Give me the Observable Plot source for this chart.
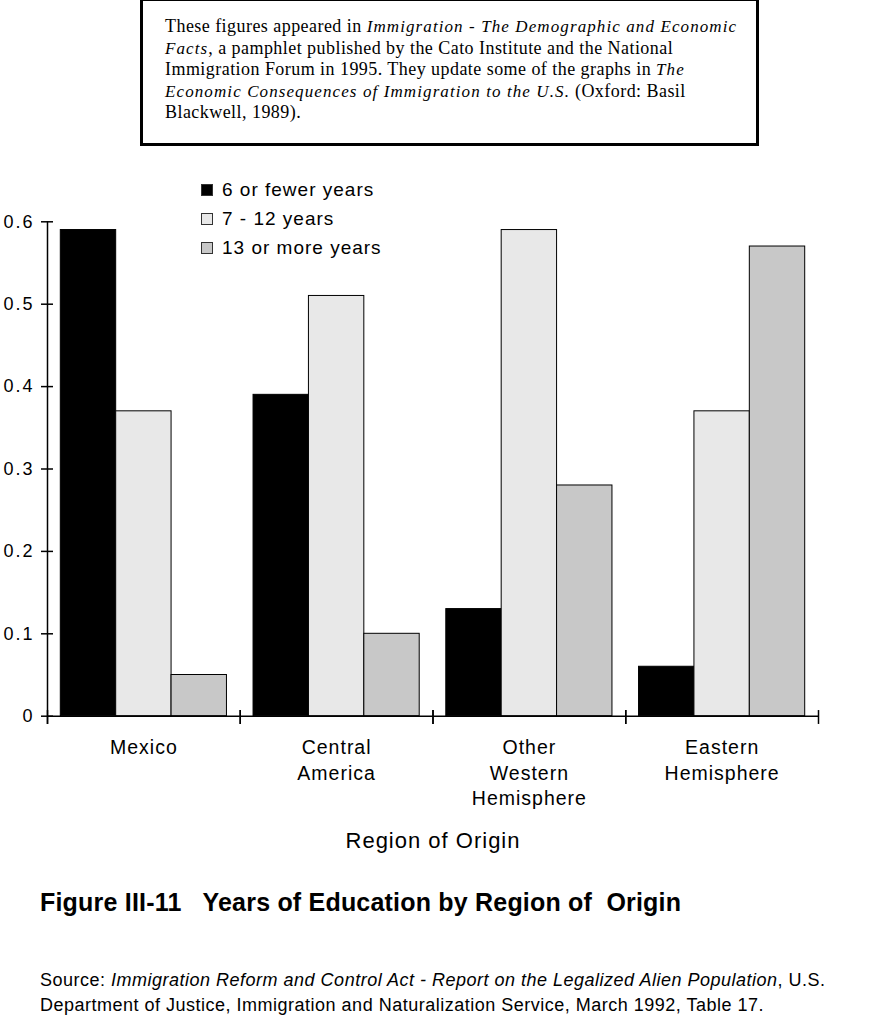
<!DOCTYPE html>
<html>
<head>
<meta charset="utf-8">
<script src="https://cdn.jsdelivr.net/npm/d3@7"></script>
<script src="https://cdn.jsdelivr.net/npm/@observablehq/plot@0.6"></script>
<style>
  body { margin: 0; background: #fff; width: 894px; height: 1025px; position: relative; overflow: hidden; font-family: "Liberation Sans", Arial, sans-serif; color: #000; }
  #note { position: absolute; left: 140px; top: -2px; width: 613px; height: 142px; border: 3px solid #000; }
  #note .txt { position: absolute; left: 22px; top: 15px; font-family: "Liberation Serif", "Times New Roman", serif; font-size: 18px; letter-spacing: 0.45px; line-height: 21.5px; white-space: nowrap; }
  #note .txt i { font-size: 17px; letter-spacing: 1.1px; }
  #chart { position: absolute; left: 0; top: 150px; }
  #chart svg { letter-spacing: 1px; }
  #chart g[aria-label="y-axis tick label"] { letter-spacing: 2px; }
  #legend { position: absolute; left: 201px; top: 175px; font-size: 19px; letter-spacing: 1px; }
  #legend .row { display: flex; align-items: center; height: 29px; }
  #legend .sw { width: 10px; height: 10px; border: 1px solid #333; margin-right: 9px; }
  #title { position: absolute; left: 40px; top: 887px; font-size: 25px; font-weight: bold; letter-spacing: 0.2px; white-space: pre; line-height: 30px; }
  #source { position: absolute; left: 40px; top: 968px; font-size: 18px; letter-spacing: 0.5px; line-height: 25px; white-space: nowrap; }
</style>
</head>
<body>
<div id="note"><div class="txt">These figures appeared in <i>Immigration - The Demographic and Economic</i><br><i>Facts</i>, a pamphlet published by the Cato Institute and the National<br>Immigration Forum in 1995. They update some of the graphs in <i>The</i><br><i>Economic Consequences of Immigration to the U.S.</i> (Oxford: Basil<br>Blackwell, 1989).</div></div>
<div id="chart"></div>
<div id="legend"></div>
<div id="title">Figure III-11   Years of Education by Region of  Origin</div>
<div id="source">Source: <i>Immigration Reform and Control Act - Report on the Legalized Alien Population</i>, U.S.<br>Department of Justice, Immigration and Naturalization Service, March 1992, Table 17.</div>
<script>
const regions = ["Mexico", "Central\nAmerica", "Other\nWestern\nHemisphere", "Eastern\nHemisphere"];
const levels = ["6 or fewer years", "7 - 12 years", "13 or more years"];
const sixOrFewer = [0.59, 0.39, 0.13, 0.06];
const sevenToTwelve = [0.37, 0.51, 0.59, 0.37];
const thirteenOrMore = [0.05, 0.10, 0.28, 0.57];
const levelColors = ["#000000", "#e8e8e8", "#c8c8c8"];
const yTicks = [0, 0.1, 0.2, 0.3, 0.4, 0.5, 0.6];
const yTickLabels = ["0", "0.1", "0.2", "0.3", "0.4", "0.5", "0.6"];
const axisTitle = "Region of Origin";

const series = [sixOrFewer, sevenToTwelve, thirteenOrMore];
const data = regions.flatMap((r, i) => levels.map((l, j) => ({region: r, level: l, value: series[j][i]})));

const plot = Plot.plot({
  width: 894,
  height: 720,
  marginLeft: 47,
  marginRight: 76,
  marginTop: 71.3,
  marginBottom: 154.3,
  style: {fontFamily: "'Liberation Sans', Arial, sans-serif", fontSize: "18px", color: "#000", background: "#fff"},
  fx: {domain: regions, padding: 0, round: false},
  x: {domain: levels, paddingInner: 0, paddingOuter: 0.24, round: false, axis: null},
  y: {domain: [0, 0.6]},
  color: {domain: levels, range: levelColors},
  marks: [
    Plot.barY(data, {fx: "region", x: "level", y: "value", fill: "level", stroke: "#000", strokeWidth: 1}),
    Plot.ruleY([0], {stroke: "#000", strokeWidth: 1.5}),
    Plot.frame({anchor: "left", facetAnchor: "left", insetBottom: -7, strokeWidth: 1.5}),
    Plot.frame({anchor: "left", insetTop: 489, insetBottom: -7, strokeWidth: 1.5}),
    Plot.frame({anchor: "right", insetTop: 489, insetBottom: -7, strokeWidth: 1.5}),
    Plot.axisY({ticks: yTicks, tickFormat: d => yTickLabels[yTicks.indexOf(d)], tickSize: 12, dx: 6, tickPadding: 7, fontSize: 18, strokeWidth: 1.5, label: null}),
    Plot.axisFx({anchor: "bottom", tickSize: 0, tickPadding: 19, fontSize: 19.5, lineHeight: 1.33, label: null}),
    Plot.axisFx({anchor: "bottom", ticks: [], label: axisTitle, labelAnchor: "center", labelOffset: 132, fontSize: 22})
  ]
});
document.getElementById("chart").appendChild(plot);

const legend = d3.select("#legend");
levels.forEach((l, j) => {
  const row = legend.append("div").attr("class", "row");
  row.append("div").attr("class", "sw").style("background", levelColors[j]);
  row.append("span").text(l);
});
</script>
</body>
</html>
